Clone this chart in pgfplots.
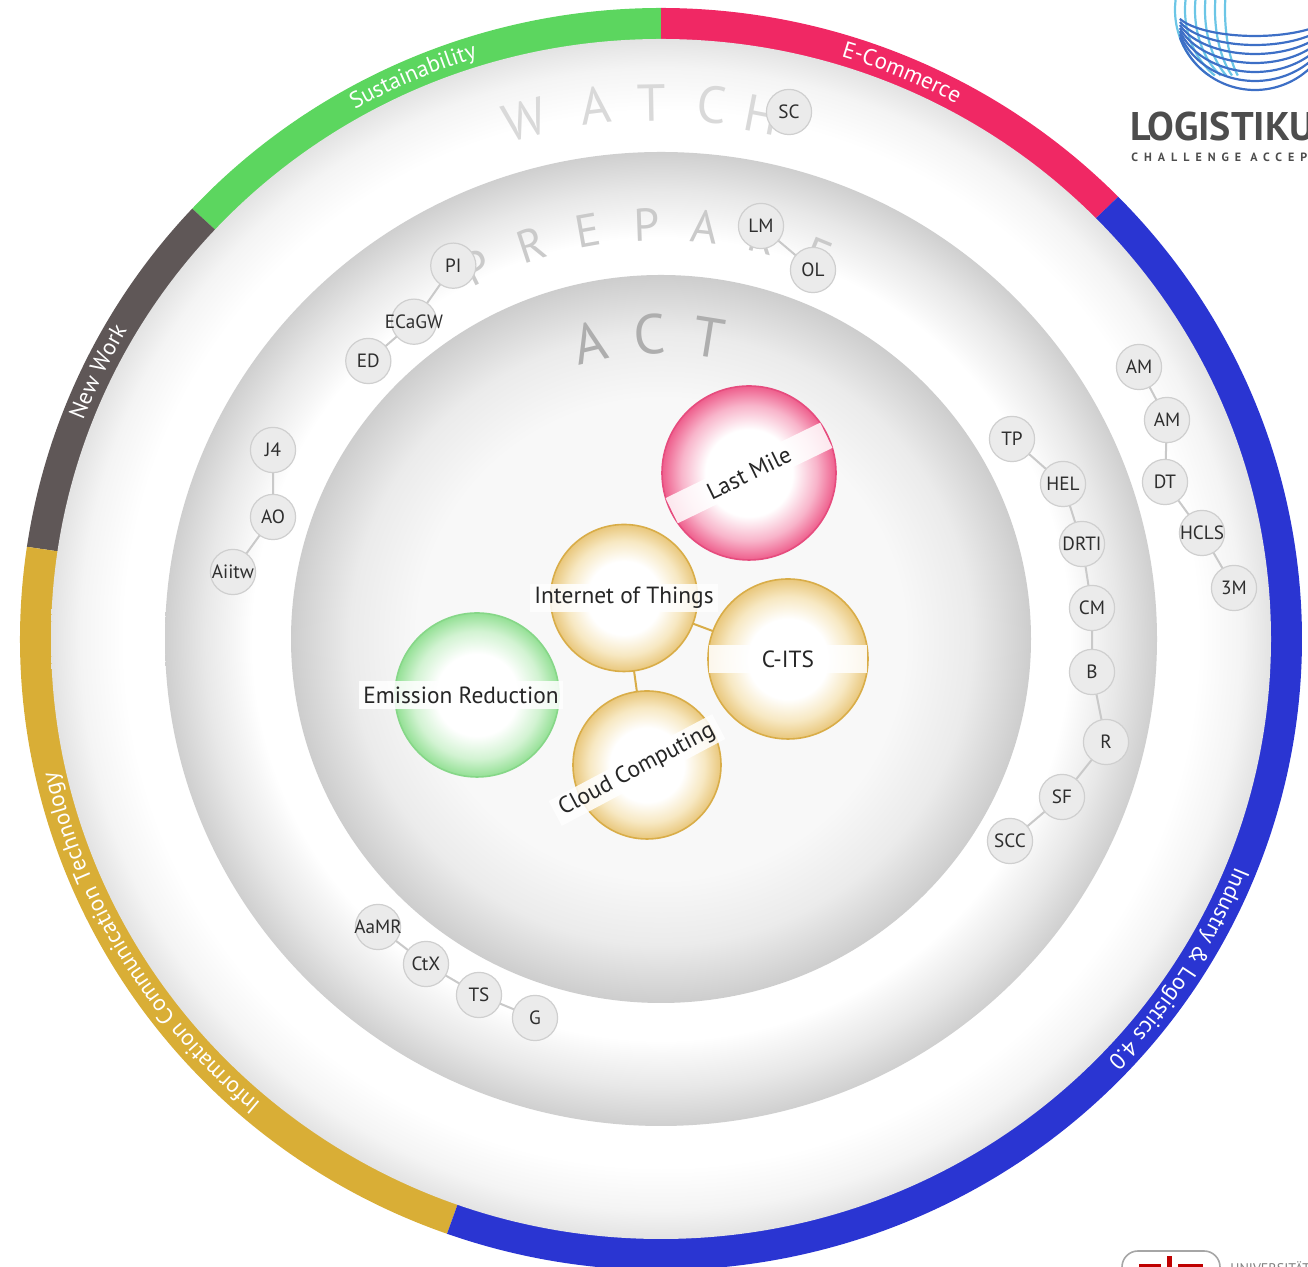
\documentclass[border=0pt]{standalone}
\usepackage{fontspec}
\setmainfont{PT Sans}
\usepackage{pgfplots}
\pgfplotsset{compat=1.18}
\usepackage{pgfplotstable}
\usetikzlibrary{decorations.text}

\definecolor{cSust}{HTML}{5CD65F}
\definecolor{cEcom}{HTML}{F02864}
\definecolor{cNew}{HTML}{5F5757}
\definecolor{cICT}{HTML}{D9AE36}
\definecolor{cInd}{HTML}{2A35D2}
\definecolor{wEdge}{HTML}{E3E3E3}
\definecolor{wMid}{HTML}{F4F4F4}
\definecolor{pEdge}{HTML}{CFCFCF}
\definecolor{pMid}{HTML}{E8E8E8}
\definecolor{pIn}{HTML}{F7F7F7}
\definecolor{aEdge}{HTML}{CDCDCD}
\definecolor{aMid}{HTML}{EBEBEB}
\definecolor{aIn}{HTML}{F8F8F8}
\definecolor{pinkEdge}{HTML}{EE5E8C}
\definecolor{pinkMid}{HTML}{F8B4CA}
\definecolor{pinkLine}{HTML}{E64C7E}
\definecolor{greenEdge}{HTML}{94E095}
\definecolor{greenMid}{HTML}{D2F3D2}
\definecolor{greenLine}{HTML}{86D788}
\definecolor{goldEdge}{HTML}{E9C77C}
\definecolor{goldMid}{HTML}{F7E8C2}
\definecolor{goldLine}{HTML}{D9AD48}
\definecolor{bubFill}{HTML}{EBEBEB}
\definecolor{bubLine}{HTML}{CFCFCF}
\definecolor{bubText}{HTML}{2E2E2E}
\definecolor{chainCol}{HTML}{C9C9C9}
\definecolor{wLet}{HTML}{D9D9D9}
\definecolor{pLet}{HTML}{CACACA}
\definecolor{aLet}{HTML}{AEAEAE}
\definecolor{logoGray}{HTML}{4D4D4D}
\definecolor{logoA}{HTML}{6CC6E6}
\definecolor{logoB}{HTML}{3D6FC6}

\pgfdeclareradialshading{watchsh}{\pgfpointorigin}{color(0bp)=(white); color(22bp)=(white); color(23.8bp)=(wMid); color(25bp)=(wEdge); color(50bp)=(wEdge)}
\pgfdeclareradialshading{prepsh}{\pgfpointorigin}{color(0bp)=(white); color(20.6bp)=(white); color(21.4bp)=(pIn); color(23bp)=(pMid); color(25bp)=(pEdge); color(50bp)=(pEdge)}
\pgfdeclareradialshading{actsh}{\pgfpointorigin}{color(0bp)=(aIn); color(16.5bp)=(aIn); color(21bp)=(aMid); color(25bp)=(aEdge); color(50bp)=(aEdge)}
\pgfdeclareradialshading{pinksh}{\pgfpointorigin}{color(0bp)=(white); color(12.5bp)=(white); color(19.5bp)=(pinkMid); color(25bp)=(pinkEdge); color(50bp)=(pinkEdge)}
\pgfdeclareradialshading{greensh}{\pgfpointorigin}{color(0bp)=(white); color(12.5bp)=(white); color(19.5bp)=(greenMid); color(25bp)=(greenEdge); color(50bp)=(greenEdge)}
\pgfdeclareradialshading{goldsh}{\pgfpointorigin}{color(0bp)=(white); color(12.5bp)=(white); color(19.5bp)=(goldMid); color(25bp)=(goldEdge); color(50bp)=(goldEdge)}

\pgfdeclareplotmark{pinkbub}{\pgfpathcircle{\pgfpointorigin}{\pgfplotmarksize}\pgfshadepath{pinksh}{0}\pgfusepathqstroke}
\pgfdeclareplotmark{greenbub}{\pgfpathcircle{\pgfpointorigin}{\pgfplotmarksize}\pgfshadepath{greensh}{0}\pgfusepathqstroke}
\pgfdeclareplotmark{goldbub}{\pgfpathcircle{\pgfpointorigin}{\pgfplotmarksize}\pgfshadepath{goldsh}{0}\pgfusepathqstroke}

\newcommand\ringfont{\fontsize{11.5}{13}\selectfont}
\newcommand\biglab{\fontsize{11.7}{13}\selectfont}
\newcommand\smalllab{\fontsize{9.6}{10}\selectfont}

\pgfplotstableread{
x y label
128 527 SC
100 413 LM
152 369 OL
-207.7 373.3 PI
-247 317.3 ECaGW
-292.7 278 ED
-388 189 J4
-388 122 AO
-428 67 Aiitw
-283 -288 AaMR
-235 -325 CtX
-182 -356 TS
-126 -379 G
351 200 TP
402 155 HEL
421 95 DRTI
431 31 CM
431 -33 B
445 -103 R
401 -158 SF
349 -202 SCC
478 272 AM
506 219 AM
504 157 DT
541 106 HCLS
573 51 3M
}\smallbub

\begin{document}
\begin{tikzpicture}
\begin{axis}[hide axis, x=0.5pt, y=0.5pt, xmin=-661, xmax=647, ymin=-628, ymax=639, clip=false]
\coordinate (sw) at (axis cs:-661,-628);
\coordinate (ne) at (axis cs:647,639);
% outer coloured ring
\fill[cSust] (axis cs:0,0) -- ++(90:320.5pt and 315.5pt) arc[start angle=90,end angle=137,x radius=320.5pt,y radius=315.5pt] -- cycle;
\fill[cEcom] (axis cs:0,0) -- ++(44.5:320.5pt and 315.5pt) arc[start angle=44.5,end angle=90,x radius=320.5pt,y radius=315.5pt] -- cycle;
\fill[cNew] (axis cs:0,0) -- ++(137:320.5pt and 315.5pt) arc[start angle=137,end angle=171.6,x radius=320.5pt,y radius=315.5pt] -- cycle;
\fill[cICT] (axis cs:0,0) -- ++(171.6:320.5pt and 315.5pt) arc[start angle=171.6,end angle=250.5,x radius=320.5pt,y radius=315.5pt] -- cycle;
\fill[cInd] (axis cs:0,0) -- ++(250.5:320.5pt and 315.5pt) arc[start angle=250.5,end angle=404.5,x radius=320.5pt,y radius=315.5pt] -- cycle;
% rings
\shade[shading=watchsh] (axis cs:0,0) ellipse [x radius=305pt, y radius=300pt];
\shade[shading=prepsh] (axis cs:0,0) ellipse [x radius=248pt, y radius=243.5pt];
\shade[shading=actsh] (axis cs:0,0) ellipse [x radius=185pt, y radius=182pt];
% ring letters
\node[inner sep=0pt, text=wLet, font=\fontsize{26}{26}\selectfont, rotate=14.7] at (axis cs:-136,519) {W};
\node[inner sep=0pt, text=wLet, font=\fontsize{26}{26}\selectfont, rotate=7.0] at (axis cs:-66,534) {A};
\node[inner sep=0pt, text=wLet, font=\fontsize{26}{26}\selectfont, rotate=1.0] at (axis cs:-9,536) {T};
\node[inner sep=0pt, text=wLet, font=\fontsize{26}{26}\selectfont, rotate=-5.4] at (axis cs:51,534) {C};
\node[inner sep=0pt, text=wLet, font=\fontsize{26}{26}\selectfont, rotate=-10.9] at (axis cs:101,524) {H};
\node[inner sep=0pt, text=pLet, font=\fontsize{23}{23}\selectfont, rotate=26.3] at (axis cs:-183.9,372.0) {P};
\node[inner sep=0pt, text=pLet, font=\fontsize{23}{23}\selectfont, rotate=18.2] at (axis cs:-129.6,394.3) {R};
\node[inner sep=0pt, text=pLet, font=\fontsize{23}{23}\selectfont, rotate=10.1] at (axis cs:-72.8,408.6) {E};
\node[inner sep=0pt, text=pLet, font=\fontsize{23}{23}\selectfont, rotate=2.0] at (axis cs:-14.5,414.7) {P};
\node[inner sep=0pt, text=pLet, font=\fontsize{23}{23}\selectfont, rotate=-6.1] at (axis cs:44.1,412.6) {A};
\node[inner sep=0pt, text=pLet, font=\fontsize{23}{23}\selectfont, rotate=-14.2] at (axis cs:101.8,402.3) {R};
\node[inner sep=0pt, text=pLet, font=\fontsize{23}{23}\selectfont, rotate=-22.3] at (axis cs:157.5,384.0) {E};
\node[inner sep=0pt, text=aLet, font=\fontsize{28}{28}\selectfont, rotate=13.4] at (axis cs:-70.7,296.7) {A};
\node[inner sep=0pt, text=aLet, font=\fontsize{28}{28}\selectfont, rotate=2.2] at (axis cs:-11.7,304.8) {C};
\node[inner sep=0pt, text=aLet, font=\fontsize{28}{28}\selectfont, rotate=-9.0] at (axis cs:47.7,301.2) {T};
% ring labels
\path[decorate, decoration={text along path, text={|\ringfont|Sustainability}, text align=center, text color=white}] (axis cs:-452.7,415.3) arc[start angle=137,end angle=90,x radius=309.5pt,y radius=304.5pt];
\path[decorate, decoration={text along path, text={|\ringfont|E-Commerce}, text align=center, text color=white}] (axis cs:0,609) arc[start angle=90,end angle=44.5,x radius=309.5pt,y radius=304.5pt];
\path[decorate, decoration={text along path, text={|\ringfont|New Work}, text align=center, text color=white}] (axis cs:-612.4,89.0) arc[start angle=171.6,end angle=137,x radius=309.5pt,y radius=304.5pt];
\path[decorate, decoration={text along path, text={|\ringfont|Information Communication Technology}, text align=center, text color=white}] (axis cs:-206.6,-574.1) arc[start angle=250.5,end angle=171.6,x radius=309.5pt,y radius=304.5pt];
\path[decorate, decoration={text along path, text={|\ringfont|Industry {\&} Logistics 4.0}, text align=center, text color=white}] (axis cs:441.5,426.9) arc[start angle=44.5,end angle=-109.5,x radius=309.5pt,y radius=304.5pt];
% logo top right
\draw[logoA, line width=1.1pt] (axis cs:594,629) ++(100:40pt and 40pt) arc[start angle=100,end angle=235,x radius=40pt,y radius=40pt];
\draw[logoA, line width=1.1pt] (axis cs:594,629) ++(100:35pt and 40pt) arc[start angle=100,end angle=235,x radius=35pt,y radius=40pt];
\draw[logoA, line width=1.1pt] (axis cs:594,629) ++(100:30pt and 40pt) arc[start angle=100,end angle=235,x radius=30pt,y radius=40pt];
\draw[logoA, line width=1.1pt] (axis cs:594,629) ++(100:25pt and 40pt) arc[start angle=100,end angle=235,x radius=25pt,y radius=40pt];
\draw[logoA, line width=1.1pt] (axis cs:594,629) ++(100:20pt and 40pt) arc[start angle=100,end angle=235,x radius=20pt,y radius=40pt];
\draw[logoA, line width=1.1pt] (axis cs:594,629) ++(100:15pt and 40pt) arc[start angle=100,end angle=235,x radius=15pt,y radius=40pt];
\draw[logoB, line width=1.1pt] (axis cs:594,629) ++(200:40pt and 40pt) arc[start angle=200,end angle=370,x radius=40pt,y radius=40pt];
\draw[logoB, line width=1.1pt] (axis cs:594,629) ++(200:40pt and 35.5pt) arc[start angle=200,end angle=370,x radius=40pt,y radius=35.5pt];
\draw[logoB, line width=1.1pt] (axis cs:594,629) ++(200:40pt and 31pt) arc[start angle=200,end angle=370,x radius=40pt,y radius=31pt];
\draw[logoB, line width=1.1pt] (axis cs:594,629) ++(200:40pt and 26.5pt) arc[start angle=200,end angle=370,x radius=40pt,y radius=26.5pt];
\draw[logoB, line width=1.1pt] (axis cs:594,629) ++(200:40pt and 22pt) arc[start angle=200,end angle=370,x radius=40pt,y radius=22pt];
\draw[logoB, line width=1.1pt] (axis cs:594,629) ++(200:40pt and 17.5pt) arc[start angle=200,end angle=370,x radius=40pt,y radius=17.5pt];
\draw[logoB, line width=1.1pt] (axis cs:594,629) ++(200:40pt and 13pt) arc[start angle=200,end angle=370,x radius=40pt,y radius=13pt];
\node[anchor=west, inner sep=0pt, text=logoGray, font=\fontsize{20}{20}\selectfont\bfseries] at (axis cs:469,512) {LOGISTIKUM};
\node[anchor=west, inner sep=0pt, text=logoGray, font=\fontsize{6}{6}\selectfont\bfseries\addfontfeatures{LetterSpace=50}] at (axis cs:470,482) {CHALLENGE ACCEPTED};
% logo bottom right
\draw[gray!70, line width=0.8pt, rounded corners=8pt] (axis cs:461,-612) rectangle (axis cs:559,-660);
\fill[red!75!black] (axis cs:478,-625) rectangle (axis cs:500,-630);
\fill[red!75!black] (axis cs:506,-617) rectangle (axis cs:511,-650);
\fill[red!75!black] (axis cs:517,-625) rectangle (axis cs:542,-630);
\node[anchor=north west, inner sep=0pt, text=gray, font=\fontsize{7}{7}\selectfont] at (axis cs:569,-622) {UNIVERSIT\"AT};
% chains (small bubbles)
\addplot[draw=chainCol, line width=1pt, no marks] coordinates {(100,413) (152,369)};
\addplot[draw=chainCol, line width=1pt, no marks] coordinates {(-207.7,373.3) (-247,317.3) (-292.7,278)};
\addplot[draw=chainCol, line width=1pt, no marks] coordinates {(-388,189) (-388,122) (-428,67)};
\addplot[draw=chainCol, line width=1pt, no marks] coordinates {(-283,-288) (-235,-325) (-182,-356) (-126,-379)};
\addplot[draw=chainCol, line width=1pt, no marks] coordinates {(351,200) (402,155) (421,95) (431,31) (431,-33) (445,-103) (401,-158) (349,-202)};
\addplot[draw=chainCol, line width=1pt, no marks] coordinates {(478,272) (506,219) (504,157) (541,106) (573,51)};
\addplot[only marks, mark=*, mark size=11.3pt, mark options={fill=bubFill, draw=bubLine, line width=0.6pt},
  nodes near coords, point meta=explicit symbolic,
  every node near coord/.append style={anchor=center, inner sep=0pt, font=\smalllab, text=bubText}]
  table[x=x, y=y, meta=label] {\smallbub};
% big bubbles
\addplot[draw=goldLine, line width=1pt, no marks] coordinates {(127,-20) (-37,41) (-14,-126)};
\addplot[only marks, mark=pinkbub, mark size=43.5pt, mark options={draw=pinkLine, line width=0.8pt},
  nodes near coords, point meta=explicit symbolic,
  every node near coord/.append style={anchor=center, rotate=26, fill=white, fill opacity=0.85, text opacity=1, minimum width=86pt, minimum height=14pt, inner sep=1pt, font=\biglab, text=black!85}]
  coordinates {(88,166) [Last Mile]};
\addplot[only marks, mark=greenbub, mark size=41pt, mark options={draw=greenLine, line width=0.8pt},
  nodes near coords, point meta=explicit symbolic,
  every node near coord/.append style={anchor=center, xshift=-8pt, fill=white, fill opacity=0.85, text opacity=1, minimum height=14pt, inner xsep=2pt, inner ysep=1pt, font=\biglab, text=black!85}]
  coordinates {(-184,-56) [Emission Reduction]};
\addplot[only marks, mark=goldbub, mark size=36.75pt, mark options={draw=goldLine, line width=0.8pt},
  nodes near coords, point meta=explicit symbolic,
  every node near coord/.append style={anchor=center, fill=white, fill opacity=0.85, text opacity=1, minimum height=14pt, inner xsep=2pt, inner ysep=1pt, font=\biglab, text=black!85}]
  coordinates {(-37,41) [Internet of Things]};
\addplot[only marks, mark=goldbub, mark size=40pt, mark options={draw=goldLine, line width=0.8pt},
  nodes near coords, point meta=explicit symbolic,
  every node near coord/.append style={anchor=center, fill=white, fill opacity=0.85, text opacity=1, minimum width=79pt, minimum height=14pt, inner sep=1pt, font=\biglab, text=black!85}]
  coordinates {(127,-20) [C-ITS]};
\addplot[only marks, mark=goldbub, mark size=37pt, mark options={draw=goldLine, line width=0.8pt},
  nodes near coords, point meta=explicit symbolic,
  every node near coord/.append style={anchor=center, xshift=-5pt, yshift=-2.5pt, rotate=28, fill=white, fill opacity=0.85, text opacity=1, minimum height=14pt, inner xsep=3pt, inner ysep=1pt, font=\biglab, text=black!85}]
  coordinates {(-14,-126) [Cloud Computing]};
\end{axis}
\pgfresetboundingbox
\useasboundingbox (sw) rectangle (ne);
\end{tikzpicture}
\end{document}
